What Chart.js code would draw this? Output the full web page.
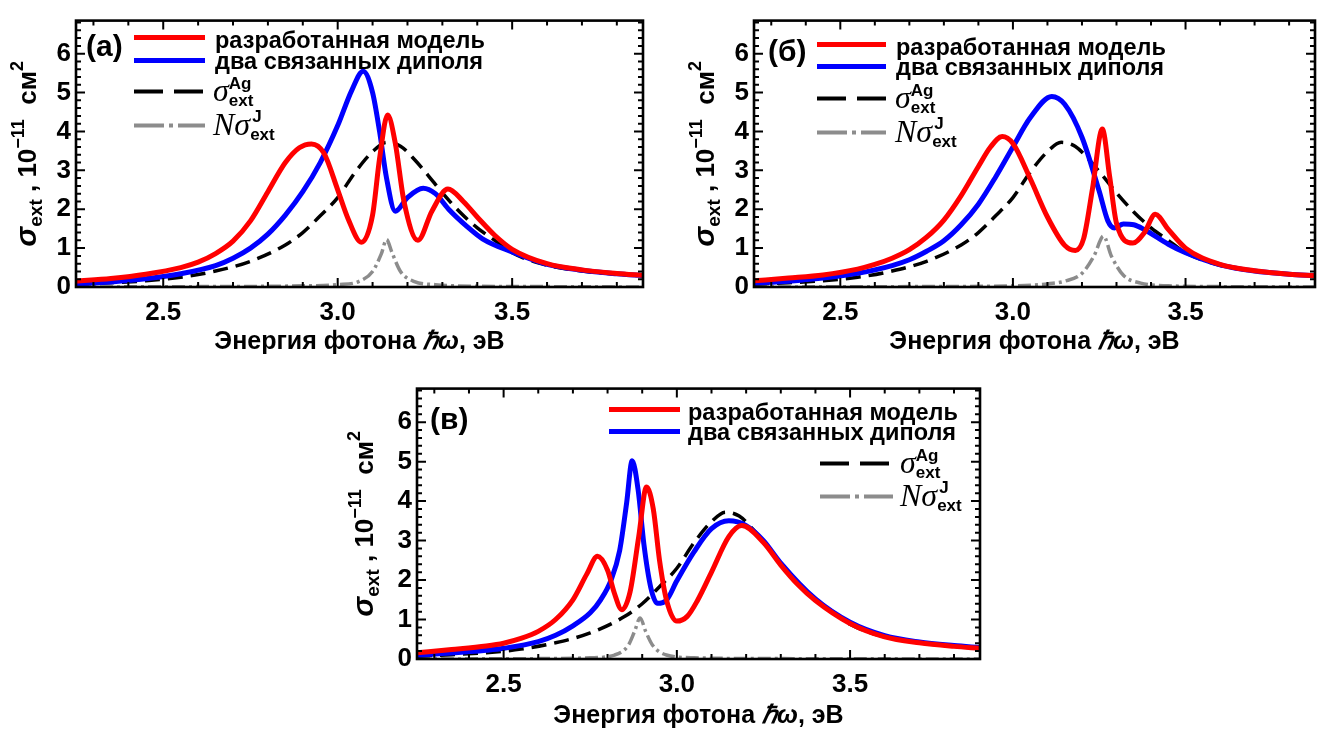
<!DOCTYPE html>
<html>
<head>
<meta charset="utf-8">
<script src="https://cdn.jsdelivr.net/npm/chart.js@4.4.1/dist/chart.umd.min.js"></script>
<style>
html, body { margin: 0; padding: 0; background: #fff; }
body { width: 1336px; height: 733px; position: relative; overflow: hidden; }
canvas { position: absolute; }
</style>
</head>
<body>
<canvas id="panelA" width="668" height="365" style="left:0px;top:0px"></canvas>
<canvas id="panelB" width="656" height="365" style="left:680px;top:0px"></canvas>
<canvas id="panelC" width="668" height="365" style="left:340px;top:368px"></canvas>
<script>
// --- данные (энергия в эВ, сечение в 10^-11 см^2) ---
var xTickValues = [2.5, 3.0, 3.5];
var yTickValues = [0, 1, 2, 3, 4, 5, 6];

// сечение экстинкции серебряной частицы (одинаково на всех панелях)
var agX = [2.25, 2.35, 2.45, 2.55, 2.65, 2.75, 2.85, 2.9, 2.95, 3.0, 3.05, 3.1, 3.14, 3.18, 3.22, 3.26, 3.3, 3.35, 3.4, 3.45, 3.5, 3.6, 3.7, 3.8, 3.875];
var agY = [0.07, 0.11, 0.16, 0.25, 0.41, 0.66, 1.08, 1.4, 1.83, 2.3, 2.95, 3.48, 3.72, 3.62, 3.28, 2.86, 2.42, 1.93, 1.52, 1.2, 0.88, 0.56, 0.41, 0.33, 0.29];

// панель (а)
var redAX = [2.25, 2.35, 2.45, 2.55, 2.6, 2.65, 2.7, 2.75, 2.8, 2.85, 2.89, 2.925, 2.96, 3.0, 3.03, 3.068, 3.1, 3.12, 3.143, 3.165, 3.19, 3.23, 3.27, 3.316, 3.36, 3.405, 3.45, 3.5, 3.6, 3.7, 3.8, 3.875];
var redAY = [0.15, 0.22, 0.33, 0.5, 0.64, 0.86, 1.18, 1.7, 2.45, 3.2, 3.58, 3.68, 3.45, 2.5, 1.75, 1.15, 1.85, 3.3, 4.42, 3.7, 2.2, 1.2, 1.95, 2.52, 2.2, 1.75, 1.33, 0.97, 0.6, 0.44, 0.35, 0.3];
var blueAX = [2.25, 2.35, 2.45, 2.55, 2.65, 2.7, 2.75, 2.8, 2.85, 2.9, 2.95, 3.0, 3.04, 3.073, 3.1, 3.12, 3.14, 3.165, 3.2, 3.245, 3.28, 3.32, 3.37, 3.415, 3.5, 3.6, 3.7, 3.8, 3.875];
var blueAY = [0.08, 0.13, 0.21, 0.34, 0.55, 0.74, 1.0, 1.36, 1.85, 2.45, 3.2, 4.15, 5.05, 5.55, 5.0, 4.0, 2.8, 1.95, 2.3, 2.54, 2.4, 1.98, 1.56, 1.24, 0.9, 0.58, 0.43, 0.34, 0.29];
var jAX = [2.25, 2.6, 2.9, 3.0, 3.06, 3.1, 3.125, 3.14, 3.155, 3.18, 3.22, 3.28, 3.4, 3.6, 3.875];
var jAY = [0.0, 0.01, 0.03, 0.06, 0.14, 0.4, 0.85, 1.22, 0.9, 0.4, 0.14, 0.06, 0.02, 0.01, 0.0];

// панель (б)
var redBX = [2.25, 2.35, 2.45, 2.55, 2.6, 2.65, 2.7, 2.75, 2.8, 2.85, 2.9, 2.935, 2.969, 3.0, 3.05, 3.1, 3.15, 3.181, 3.205, 3.23, 3.259, 3.28, 3.3, 3.3475, 3.38, 3.4125, 3.45, 3.5, 3.6, 3.7, 3.8, 3.875];
var redBY = [0.16, 0.23, 0.31, 0.46, 0.58, 0.74, 0.96, 1.28, 1.72, 2.35, 3.1, 3.6, 3.87, 3.69, 2.79, 1.8, 1.07, 0.94, 1.25, 2.5, 4.06, 2.85, 1.64, 1.13, 1.39, 1.87, 1.48, 1.0, 0.58, 0.42, 0.33, 0.29];
var blueBX = [2.25, 2.35, 2.45, 2.55, 2.65, 2.7, 2.75, 2.8, 2.85, 2.9, 2.95, 3.0, 3.05, 3.1125, 3.15, 3.2, 3.25, 3.275, 3.294, 3.32, 3.35, 3.38, 3.45, 3.5, 3.6, 3.7, 3.8, 3.875];
var blueBY = [0.1, 0.15, 0.23, 0.35, 0.55, 0.7, 0.92, 1.19, 1.6, 2.13, 2.83, 3.6, 4.35, 4.9, 4.7, 3.85, 2.46, 1.7, 1.52, 1.62, 1.6, 1.48, 1.1, 0.88, 0.57, 0.41, 0.33, 0.29];
var jBX = [2.25, 2.7, 3.0, 3.1, 3.15, 3.2, 3.235, 3.2625, 3.285, 3.32, 3.37, 3.45, 3.6, 3.875];
var jBY = [0.0, 0.01, 0.03, 0.08, 0.15, 0.35, 0.8, 1.31, 0.8, 0.3, 0.1, 0.03, 0.01, 0.0];

// панель (в)
var redCX = [2.25, 2.35, 2.45, 2.5, 2.55, 2.6, 2.65, 2.7, 2.74, 2.771, 2.8, 2.82, 2.841, 2.865, 2.89, 2.9125, 2.932, 2.95, 2.97, 3.0, 3.03, 3.06, 3.1, 3.15, 3.1875, 3.25, 3.3, 3.35, 3.4, 3.5, 3.6, 3.7, 3.8, 3.875];
var redCY = [0.16, 0.24, 0.33, 0.4, 0.52, 0.7, 1.0, 1.5, 2.15, 2.6, 2.25, 1.66, 1.25, 1.7, 3.1, 4.36, 3.8, 2.5, 1.5, 0.96, 1.08, 1.49, 2.2, 3.1, 3.38, 2.95, 2.38, 1.88, 1.48, 0.9, 0.56, 0.41, 0.32, 0.27];
var blueCX = [2.25, 2.35, 2.45, 2.5, 2.6, 2.65, 2.7, 2.75, 2.78, 2.81, 2.835, 2.855, 2.871, 2.888, 2.905, 2.925, 2.944, 2.97, 3.0, 3.05, 3.1, 3.15, 3.2, 3.25, 3.3, 3.4, 3.5, 3.6, 3.7, 3.8, 3.875];
var blueCY = [0.1, 0.15, 0.22, 0.27, 0.44, 0.6, 0.84, 1.17, 1.5, 2.0, 2.75, 3.95, 5.02, 4.3, 2.9, 1.8, 1.41, 1.49, 1.98, 2.72, 3.3, 3.5, 3.38, 3.0, 2.43, 1.52, 0.93, 0.59, 0.43, 0.34, 0.29];
var jCX = [2.25, 2.6, 2.75, 2.82, 2.86, 2.878, 2.894, 2.91, 2.93, 2.97, 3.05, 3.3, 3.875];
var jCY = [0.0, 0.01, 0.03, 0.1, 0.35, 0.7, 1.04, 0.7, 0.35, 0.1, 0.03, 0.01, 0.0];

// --- оформление ---
var SANS = '"Liberation Sans", Arial, sans-serif';
var SERIF = '"Liberation Serif", "Times New Roman", serif';
function font(style, size, fam) { return style + ' ' + size + 'px ' + (fam || SANS); }

var lineStyles = {
    red:  { color: '#ff0000', width: 5, dash: [] },
    blue: { color: '#0000ff', width: 5, dash: [] },
    ag:   { color: '#000000', width: 3.5, dash: [15, 8] },
    j:    { color: '#8c8c8c', width: 3.5, dash: [13, 4, 3, 4] }
};
var legendDash = { red: [], blue: [], ag: [29, 11], j: [30, 5, 4, 5] };

var legendTexts = {
    red: [{ t: 'разработанная модель', f: font('bold', 23.5) }],
    blue: [{ t: 'два связанных диполя', f: font('bold', 23.5) }],
    ag: [
        { t: 'σ', f: font('italic', 32, SERIF) },
        { t: 'Ag', f: font('bold', 17), dy: -12, hold: true },
        { t: 'ext', f: font('bold', 17), dy: 5 }
    ],
    j: [
        { t: 'N', f: font('italic', 32, SERIF) },
        { t: 'σ', f: font('italic', 32, SERIF) },
        { t: 'J', f: font('bold', 17), dy: -13, dx: 2, hold: true },
        { t: 'ext', f: font('bold', 17), dy: 5 }
    ]
};

var yTitle = [
    { t: 'σ', f: font('bold italic', 30) },
    { t: 'ext', f: font('bold', 19), dy: 6 },
    { t: ' , ', f: font('bold', 26) },
    { t: '10', f: font('bold', 26) },
    { t: '−11', f: font('bold', 18), dy: -12 },
    { t: '  см', f: font('bold', 26) },
    { t: '2', f: font('bold', 18), dy: -13 }
];
var xTitle = [
    { t: 'Энергия фотона ', f: font('bold', 25) },
    { t: 'ℏω', f: font('bold italic', 25) },
    { t: ', эВ', f: font('bold', 25) }
];

function layoutRich(ctx, parts) {
    var x = 0, held = 0, items = [];
    parts.forEach(function (p) {
        ctx.font = p.f;
        var w = ctx.measureText(p.t).width + (p.dx || 0);
        items.push({ p: p, x: x });
        if (p.hold) {
            held = Math.max(held, w);
        } else {
            x += Math.max(w, held);
            held = 0;
        }
    });
    return { items: items, width: x };
}

function drawRich(ctx, parts, x, y, centered) {
    var lay = layoutRich(ctx, parts);
    var x0 = centered ? x - lay.width / 2 : x;
    lay.items.forEach(function (it) {
        ctx.font = it.p.f;
        ctx.fillText(it.p.t, x0 + it.x + (it.p.dx || 0), y + (it.p.dy || 0));
    });
}

function points(xs, ys) {
    return xs.map(function (x, i) { return { x: x, y: ys[i] }; });
}

// рамка с засечками внутрь, как в Mathematica
var framePlugin = {
    id: 'frame',
    afterDatasetsDraw: function (chart) {
        var ctx = chart.ctx, a = chart.chartArea;
        var sx = chart.scales.x, sy = chart.scales.y;
        ctx.save();
        ctx.strokeStyle = '#000';
        ctx.lineWidth = 2;
        ctx.setLineDash([]);
        ctx.beginPath();
        for (var i = 23; i <= 38; i++) {
            var px = sx.getPixelForValue(i / 10);
            var len = (i % 5 === 0) ? 9 : 5;
            ctx.moveTo(px, a.bottom); ctx.lineTo(px, a.bottom - len);
            ctx.moveTo(px, a.top); ctx.lineTo(px, a.top + len);
        }
        for (var j = 1; j <= 34; j++) {
            var py = sy.getPixelForValue(j / 5);
            var l2 = (j % 5 === 0) ? 9 : 5;
            ctx.moveTo(a.left, py); ctx.lineTo(a.left + l2, py);
            ctx.moveTo(a.right, py); ctx.lineTo(a.right - l2, py);
        }
        ctx.stroke();
        ctx.lineWidth = 2.6;
        ctx.strokeRect(a.left, a.top, a.right - a.left, a.bottom - a.top);
        ctx.restore();
    }
};

// подписи осей, метка панели и легенда
var decorPlugin = {
    id: 'decor',
    afterDraw: function (chart) {
        var ctx = chart.ctx, a = chart.chartArea;
        var cfg = chart.options.plugins.decor;
        ctx.save();
        ctx.fillStyle = '#000';
        ctx.textBaseline = 'alphabetic';

        drawRich(ctx, xTitle, (a.left + a.right) / 2, a.bottom + cfg.xTitleDy, true);

        ctx.save();
        ctx.translate(a.left - cfg.yTitleDx, (a.top + a.bottom) / 2 + cfg.yTitleShift);
        ctx.rotate(-Math.PI / 2);
        drawRich(ctx, yTitle, 0, 0, true);
        ctx.restore();

        ctx.font = font('bold', 30);
        ctx.fillText(cfg.tag, a.left + cfg.tagX, a.top + cfg.tagY);

        cfg.rows.forEach(function (r) {
            var st = lineStyles[r.key];
            var y = a.top + r.y;
            ctx.save();
            ctx.strokeStyle = st.color;
            ctx.lineWidth = r.key === 'red' || r.key === 'blue' ? 5 : 4;
            ctx.setLineDash(legendDash[r.key]);
            ctx.beginPath();
            ctx.moveTo(a.left + r.x1, y);
            ctx.lineTo(a.left + r.x2, y);
            ctx.stroke();
            ctx.restore();
            drawRich(ctx, legendTexts[r.key], a.left + r.tx, y + r.ty, false);
        });
        ctx.restore();
    }
};

function dataset(key, xs, ys, order) {
    var st = lineStyles[key];
    return {
        data: points(xs, ys),
        borderColor: st.color,
        borderWidth: st.width,
        borderDash: st.dash,
        pointRadius: 0,
        fill: false,
        cubicInterpolationMode: 'monotone',
        order: order
    };
}

function makePanel(p) {
    return new Chart(document.getElementById(p.id), {
        type: 'line',
        data: {
            datasets: [
                dataset('red', p.redX, p.redY, 1),
                dataset('blue', p.blueX, p.blueY, 2),
                dataset('ag', agX, agY, 3),
                dataset('j', p.jX, p.jY, 4)
            ]
        },
        options: {
            responsive: false,
            animation: false,
            devicePixelRatio: 1,
            layout: { padding: { left: 0, top: p.padTop, right: p.padRight, bottom: 0 } },
            plugins: {
                legend: { display: false },
                tooltip: { enabled: false },
                decor: p.decor
            },
            scales: {
                x: {
                    type: 'linear',
                    min: 2.25,
                    max: 3.875,
                    grid: { display: false, drawTicks: false },
                    border: { display: false },
                    afterBuildTicks: function (s) { s.ticks = xTickValues.map(function (v) { return { value: v }; }); },
                    afterFit: function (s) { s.height = p.xAxisHeight; },
                    ticks: {
                        autoSkip: false,
                        maxRotation: 0,
                        padding: 10,
                        color: '#000',
                        font: { family: SANS, weight: 'bold', size: 26 },
                        callback: function (v) { return Number(v).toFixed(1); }
                    }
                },
                y: {
                    min: 0,
                    max: 6.85,
                    grid: { display: false, drawTicks: false },
                    border: { display: false },
                    afterBuildTicks: function (s) { s.ticks = yTickValues.map(function (v) { return { value: v }; }); },
                    afterFit: function (s) { s.width = p.yAxisWidth; },
                    ticks: {
                        autoSkip: false,
                        padding: 5,
                        color: '#000',
                        font: { family: SANS, weight: 'bold', size: 26 },
                        callback: function (v) { return String(v); }
                    }
                }
            }
        },
        plugins: [framePlugin, decorPlugin]
    });
}

makePanel({
    id: 'panelA', redX: redAX, redY: redAY, blueX: blueAX, blueY: blueAY, jX: jAX, jY: jAY,
    yAxisWidth: 76, padTop: 7, padRight: 25, xAxisHeight: 78,
    decor: {
        tag: '(a)', tagX: 10, tagY: 35, xTitleDy: 62, yTitleDx: 40, yTitleShift: 0,
        rows: [
            { key: 'red', x1: 58, x2: 129, y: 17, tx: 139, ty: 10 },
            { key: 'blue', x1: 58, x2: 129, y: 40, tx: 139, ty: 8 },
            { key: 'ag', x1: 58, x2: 129, y: 71, tx: 137, ty: 9 },
            { key: 'j', x1: 58, x2: 129, y: 105, tx: 137, ty: 9 }
        ]
    }
});

makePanel({
    id: 'panelB', redX: redBX, redY: redBY, blueX: blueBX, blueY: blueBY, jX: jBX, jY: jBY,
    yAxisWidth: 74, padTop: 8, padRight: 21, xAxisHeight: 78,
    decor: {
        tag: '(б)', tagX: 14, tagY: 40, xTitleDy: 62, yTitleDx: 40, yTitleShift: 0,
        rows: [
            { key: 'red', x1: 63, x2: 132, y: 24, tx: 142, ty: 10 },
            { key: 'blue', x1: 63, x2: 132, y: 46, tx: 142, ty: 8 },
            { key: 'ag', x1: 63, x2: 132, y: 78, tx: 141, ty: 9 },
            { key: 'j', x1: 63, x2: 132, y: 112, tx: 141, ty: 9 }
        ]
    }
});

makePanel({
    id: 'panelC', redX: redCX, redY: redCY, blueX: blueCX, blueY: blueCY, jX: jCX, jY: jCY,
    yAxisWidth: 77, padTop: 12, padRight: 28, xAxisHeight: 74,
    decor: {
        tag: '(в)', tagX: 13, tagY: 40, xTitleDy: 64, yTitleDx: 44, yTitleShift: 0,
        rows: [
            { key: 'red', x1: 192, x2: 263, y: 21, tx: 271, ty: 10 },
            { key: 'blue', x1: 192, x2: 263, y: 43, tx: 271, ty: 8 },
            { key: 'ag', x1: 403, x2: 476, y: 75, tx: 483, ty: 9 },
            { key: 'j', x1: 403, x2: 476, y: 108, tx: 483, ty: 9 }
        ]
    }
});
</script>
</body>
</html>
